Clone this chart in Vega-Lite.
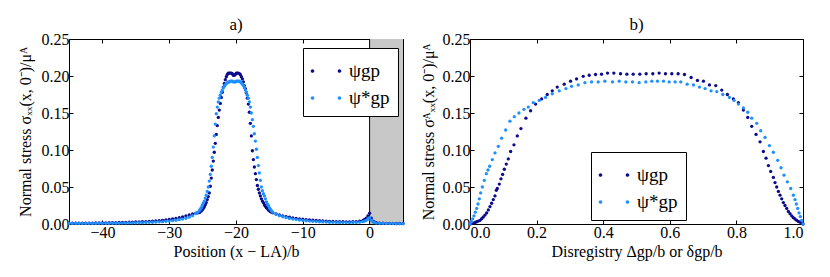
{
  "$schema": "https://vega.github.io/schema/vega-lite/v6.json",
  "background": "white",
  "padding": {"left": 17, "top": 16, "right": 5, "bottom": 5},
  "spacing": 15,
  "config": {
    "font": "Liberation Serif",
    "view": {"stroke": null},
    "axis": {
      "domain": true, "domainColor": "black", "domainWidth": 1,
      "grid": false, "ticks": true, "tickColor": "black", "tickSize": -4, "tickWidth": 1,
      "labelFont": "Liberation Serif", "labelFontSize": 16, "labelColor": "black", "labelPadding": 4,
      "titleFont": "Liberation Serif", "titleFontSize": 16, "titleFontWeight": "normal", "titleColor": "black",
      "zindex": 1
    },
    "title": {"font": "Liberation Serif", "fontSize": 17, "fontWeight": "normal", "color": "black", "offset": -3, "frame": "group"},
    "legend": {
      "title": null, "orient": "none",
      "fillColor": "white", "strokeColor": "black", "padding": 8, "cornerRadius": 0,
      "symbolType": "M-1.02,0A0.12,0.12,0,1,0,-0.78,0A0.12,0.12,0,1,0,-1.02,0ZM0.78,0A0.12,0.12,0,1,0,1.02,0A0.12,0.12,0,1,0,0.78,0Z",
      "symbolSize": 900, "symbolStrokeWidth": 0,
      "labelFont": "Liberation Serif", "labelFontSize": 19, "labelColor": "black", "labelOffset": 8, "rowPadding": 2
    }
  },
  "resolve": {"scale": {"x": "independent", "y": "independent", "color": "independent"}, "legend": {"color": "independent"}},
  "datasets": {
    "a": [
      {"x":-45,"d":0.0010,"l":0.0008},{"x":-44.5,"d":0.0010,"l":0.0008},{"x":-44,"d":0.0011,"l":0.0008},{"x":-43.5,"d":0.0011,"l":0.0008},
      {"x":-43,"d":0.0012,"l":0.0008},{"x":-42.5,"d":0.0012,"l":0.0008},{"x":-42,"d":0.0013,"l":0.0008},{"x":-41.5,"d":0.0013,"l":0.0008},
      {"x":-41,"d":0.0014,"l":0.0008},{"x":-40.5,"d":0.0015,"l":0.0009},{"x":-40,"d":0.0015,"l":0.0009},{"x":-39.5,"d":0.0016,"l":0.0009},
      {"x":-39,"d":0.0017,"l":0.0010},{"x":-38.5,"d":0.0018,"l":0.0010},{"x":-38,"d":0.0019,"l":0.0011},{"x":-37.5,"d":0.0020,"l":0.0011},
      {"x":-37,"d":0.0021,"l":0.0012},{"x":-36.5,"d":0.0022,"l":0.0013},{"x":-36,"d":0.0024,"l":0.0014},{"x":-35.5,"d":0.0025,"l":0.0015},
      {"x":-35,"d":0.0027,"l":0.0016},{"x":-34.5,"d":0.0029,"l":0.0017},{"x":-34,"d":0.0031,"l":0.0018},{"x":-33.5,"d":0.0033,"l":0.0020},
      {"x":-33,"d":0.0036,"l":0.0022},{"x":-32.5,"d":0.0039,"l":0.0024},{"x":-32,"d":0.0042,"l":0.0026},{"x":-31.5,"d":0.0046,"l":0.0029},
      {"x":-31,"d":0.0050,"l":0.0032},{"x":-30.5,"d":0.0055,"l":0.0036},{"x":-30,"d":0.0061,"l":0.0040},{"x":-29.5,"d":0.0068,"l":0.0045},
      {"x":-29,"d":0.0076,"l":0.0051},{"x":-28.5,"d":0.0085,"l":0.0058},{"x":-28,"d":0.0096,"l":0.0067},{"x":-27.5,"d":0.0108,"l":0.0078},
      {"x":-27,"d":0.0122,"l":0.0092},{"x":-26.5,"d":0.0135,"l":0.0112},{"x":-26,"d":0.0145,"l":0.0140},{"x":-25.75,"d":0.0150,"l":0.0158},
      {"x":-25.5,"d":0.0155,"l":0.018},{"x":-25.35,"d":0.0165,"l":0.020},{"x":-25.2,"d":0.0177,"l":0.022},{"x":-25.05,"d":0.019,"l":0.025},
      {"x":-24.9,"d":0.021,"l":0.028},{"x":-24.75,"d":0.023,"l":0.031},{"x":-24.6,"d":0.026,"l":0.035},{"x":-24.45,"d":0.029,"l":0.039},
      {"x":-24.3,"d":0.033,"l":0.044},{"x":-24.15,"d":0.037,"l":0.050},{"x":-24.0,"d":0.042,"l":0.058},{"x":-23.85,"d":0.051,"l":0.067},
      {"x":-23.7,"d":0.062,"l":0.078},{"x":-23.55,"d":0.073,"l":0.090},{"x":-23.4,"d":0.085,"l":0.104},{"x":-23.25,"d":0.097,"l":0.119},
      {"x":-23.1,"d":0.109,"l":0.135},{"x":-22.95,"d":0.121,"l":0.149},{"x":-22.8,"d":0.133,"l":0.158},{"x":-22.65,"d":0.144,"l":0.165},
      {"x":-22.5,"d":0.154,"l":0.170},{"x":-22.35,"d":0.163,"l":0.174},{"x":-22.2,"d":0.171,"l":0.178},{"x":-22.05,"d":0.178,"l":0.181},
      {"x":-21.9,"d":0.185,"l":0.184},{"x":-21.75,"d":0.190,"l":0.186},{"x":-21.6,"d":0.195,"l":0.188},{"x":-21.45,"d":0.199,"l":0.190},
      {"x":-21.3,"d":0.202,"l":0.191},{"x":-21.15,"d":0.204,"l":0.192},{"x":-21.0,"d":0.204,"l":0.192},{"x":-20.85,"d":0.204,"l":0.193},
      {"x":-20.7,"d":0.204,"l":0.193},{"x":-20.55,"d":0.203,"l":0.193},{"x":-20.4,"d":0.201,"l":0.192},{"x":-20.25,"d":0.201,"l":0.192},
      {"x":-20.1,"d":0.202,"l":0.192},{"x":-19.95,"d":0.204,"l":0.193},{"x":-19.8,"d":0.204,"l":0.193},{"x":-19.65,"d":0.204,"l":0.193},
      {"x":-19.5,"d":0.203,"l":0.193},{"x":-19.35,"d":0.202,"l":0.192},{"x":-19.2,"d":0.199,"l":0.191},{"x":-19.05,"d":0.196,"l":0.189},
      {"x":-18.9,"d":0.192,"l":0.187},{"x":-18.75,"d":0.187,"l":0.184},{"x":-18.6,"d":0.183,"l":0.181},{"x":-18.45,"d":0.177,"l":0.178},
      {"x":-18.3,"d":0.170,"l":0.174},{"x":-18.15,"d":0.162,"l":0.170},{"x":-18.0,"d":0.151,"l":0.165},{"x":-17.85,"d":0.136,"l":0.158},
      {"x":-17.7,"d":0.119,"l":0.150},{"x":-17.55,"d":0.099,"l":0.141},{"x":-17.4,"d":0.087,"l":0.132},{"x":-17.25,"d":0.077,"l":0.122},
      {"x":-17.1,"d":0.068,"l":0.112},{"x":-16.95,"d":0.060,"l":0.101},{"x":-16.8,"d":0.052,"l":0.090},{"x":-16.65,"d":0.047,"l":0.079},
      {"x":-16.5,"d":0.042,"l":0.069},{"x":-16.35,"d":0.038,"l":0.059},{"x":-16.2,"d":0.034,"l":0.050},{"x":-16.05,"d":0.031,"l":0.045},
      {"x":-15.9,"d":0.029,"l":0.041},{"x":-15.75,"d":0.026,"l":0.038},{"x":-15.6,"d":0.024,"l":0.034},{"x":-15.45,"d":0.022,"l":0.030},
      {"x":-15.3,"d":0.021,"l":0.027},{"x":-15.15,"d":0.019,"l":0.025},{"x":-15.0,"d":0.018,"l":0.022},{"x":-14.85,"d":0.017,"l":0.020},
      {"x":-14.7,"d":0.016,"l":0.018},{"x":-14.5,"d":0.0152,"l":0.0160},{"x":-14,"d":0.0135,"l":0.0132},{"x":-13.5,"d":0.0122,"l":0.0113},
      {"x":-13,"d":0.0110,"l":0.0098},{"x":-12.5,"d":0.0100,"l":0.0086},{"x":-12,"d":0.0091,"l":0.0076},{"x":-11.5,"d":0.0083,"l":0.0067},
      {"x":-11,"d":0.0076,"l":0.0060},{"x":-10.5,"d":0.0070,"l":0.0054},{"x":-10,"d":0.0064,"l":0.0048},{"x":-9.5,"d":0.0059,"l":0.0044},
      {"x":-9,"d":0.0055,"l":0.0040},{"x":-8.5,"d":0.0051,"l":0.0036},{"x":-8,"d":0.0047,"l":0.0033},{"x":-7.5,"d":0.0044,"l":0.0030},
      {"x":-7,"d":0.0041,"l":0.0028},{"x":-6.5,"d":0.0038,"l":0.0026},{"x":-6,"d":0.0036,"l":0.0024},{"x":-5.5,"d":0.0034,"l":0.0022},
      {"x":-5,"d":0.0032,"l":0.0021},{"x":-4.5,"d":0.0031,"l":0.0020},{"x":-4,"d":0.0030,"l":0.0019},{"x":-3.5,"d":0.0029,"l":0.0019},
      {"x":-3,"d":0.0029,"l":0.0019},{"x":-2.5,"d":0.0030,"l":0.0020},{"x":-2,"d":0.0032,"l":0.0021},{"x":-1.5,"d":0.0038,"l":0.0025},
      {"x":-1,"d":0.0050,"l":0.0032},{"x":-0.75,"d":0.0062,"l":0.0040},{"x":-0.5,"d":0.0080,"l":0.0050},{"x":-0.25,"d":0.0110,"l":0.0068},
      {"x":0,"d":0.0145,"l":0.0085},{"x":0.25,"d":0.0080,"l":0.0050},{"x":0.5,"d":0.0040,"l":0.0028},{"x":0.75,"d":0.0025,"l":0.0018},
      {"x":1,"d":0.0018,"l":0.0013},{"x":1.5,"d":0.0012,"l":0.0009},{"x":2,"d":0.0010,"l":0.0008},{"x":2.5,"d":0.0009,"l":0.0007},
      {"x":3,"d":0.0008,"l":0.0006},{"x":3.5,"d":0.0008,"l":0.0006},{"x":4,"d":0.0007,"l":0.0005},{"x":4.5,"d":0.0007,"l":0.0005},
      {"x":5,"d":0.0007,"l":0.0005}
    ],
    "bd": [
      {"x":0,"y":0},{"x":0.005,"y":0.0008},{"x":0.01,"y":0.0013},{"x":0.015,"y":0.002},{"x":0.02,"y":0.003},{"x":0.025,"y":0.004},
      {"x":0.03,"y":0.005},{"x":0.035,"y":0.0072},{"x":0.04,"y":0.0095},{"x":0.045,"y":0.012},{"x":0.05,"y":0.015},{"x":0.055,"y":0.019},
      {"x":0.06,"y":0.0235},{"x":0.065,"y":0.028},{"x":0.07,"y":0.033},{"x":0.075,"y":0.038},{"x":0.079,"y":0.0455},{"x":0.082,"y":0.048},
      {"x":0.088,"y":0.054},{"x":0.093,"y":0.061},{"x":0.098,"y":0.067},{"x":0.103,"y":0.074},{"x":0.109,"y":0.081},{"x":0.115,"y":0.088},
      {"x":0.122,"y":0.098},{"x":0.132,"y":0.107},{"x":0.142,"y":0.119},{"x":0.153,"y":0.129},{"x":0.168,"y":0.143},{"x":0.182,"y":0.153},
      {"x":0.197,"y":0.162},{"x":0.215,"y":0.169},{"x":0.232,"y":0.175},{"x":0.247,"y":0.180},{"x":0.262,"y":0.185},{"x":0.283,"y":0.189},
      {"x":0.302,"y":0.193},{"x":0.320,"y":0.196},{"x":0.340,"y":0.1995},{"x":0.358,"y":0.201},{"x":0.377,"y":0.202},{"x":0.395,"y":0.2025},
      {"x":0.413,"y":0.204},{"x":0.432,"y":0.204},{"x":0.452,"y":0.203},{"x":0.471,"y":0.2025},{"x":0.490,"y":0.2025},{"x":0.510,"y":0.2025},
      {"x":0.529,"y":0.203},{"x":0.549,"y":0.203},{"x":0.568,"y":0.204},{"x":0.587,"y":0.203},{"x":0.606,"y":0.203},{"x":0.625,"y":0.203},
      {"x":0.644,"y":0.202},{"x":0.664,"y":0.198},{"x":0.683,"y":0.194},{"x":0.701,"y":0.193},{"x":0.719,"y":0.188},{"x":0.738,"y":0.187},
      {"x":0.756,"y":0.181},{"x":0.773,"y":0.175},{"x":0.791,"y":0.169},{"x":0.806,"y":0.164},{"x":0.821,"y":0.154},{"x":0.834,"y":0.144},
      {"x":0.846,"y":0.132},{"x":0.859,"y":0.121},{"x":0.871,"y":0.111},{"x":0.881,"y":0.098},{"x":0.889,"y":0.089},{"x":0.896,"y":0.079},
      {"x":0.903,"y":0.071},{"x":0.911,"y":0.063},{"x":0.916,"y":0.056},{"x":0.921,"y":0.050},{"x":0.926,"y":0.044},{"x":0.931,"y":0.039},
      {"x":0.936,"y":0.034},{"x":0.941,"y":0.029},{"x":0.946,"y":0.025},{"x":0.951,"y":0.021},{"x":0.956,"y":0.017},{"x":0.961,"y":0.014},
      {"x":0.966,"y":0.011},{"x":0.971,"y":0.0085},{"x":0.976,"y":0.0068},{"x":0.981,"y":0.005},{"x":0.986,"y":0.0035},{"x":0.991,"y":0.0025},
      {"x":0.995,"y":0.0015},{"x":1.0,"y":0}
    ],
    "bl": [
      {"x":0,"y":0},{"x":0.004,"y":0.003},{"x":0.008,"y":0.007},{"x":0.012,"y":0.011},{"x":0.016,"y":0.016},{"x":0.02,"y":0.021},
      {"x":0.024,"y":0.027},{"x":0.028,"y":0.034},{"x":0.032,"y":0.042},{"x":0.037,"y":0.050},{"x":0.043,"y":0.059},{"x":0.049,"y":0.068},
      {"x":0.054,"y":0.073},{"x":0.059,"y":0.078},{"x":0.067,"y":0.087},{"x":0.075,"y":0.096},{"x":0.085,"y":0.105},{"x":0.095,"y":0.116},
      {"x":0.107,"y":0.127},{"x":0.120,"y":0.139},{"x":0.133,"y":0.145},{"x":0.147,"y":0.150},{"x":0.162,"y":0.155},{"x":0.175,"y":0.158},
      {"x":0.190,"y":0.164},{"x":0.208,"y":0.167},{"x":0.227,"y":0.171},{"x":0.247,"y":0.176},{"x":0.268,"y":0.180},{"x":0.288,"y":0.183},
      {"x":0.305,"y":0.186},{"x":0.325,"y":0.188},{"x":0.345,"y":0.191},{"x":0.365,"y":0.192},{"x":0.385,"y":0.192},{"x":0.405,"y":0.193},
      {"x":0.428,"y":0.192},{"x":0.448,"y":0.193},{"x":0.468,"y":0.192},{"x":0.488,"y":0.192},{"x":0.508,"y":0.191},{"x":0.528,"y":0.192},
      {"x":0.546,"y":0.193},{"x":0.563,"y":0.193},{"x":0.581,"y":0.193},{"x":0.598,"y":0.192},{"x":0.616,"y":0.192},{"x":0.633,"y":0.192},
      {"x":0.652,"y":0.189},{"x":0.671,"y":0.188},{"x":0.689,"y":0.185},{"x":0.706,"y":0.183},{"x":0.724,"y":0.180},{"x":0.741,"y":0.179},
      {"x":0.759,"y":0.175},{"x":0.779,"y":0.171},{"x":0.793,"y":0.167},{"x":0.806,"y":0.162},{"x":0.821,"y":0.157},{"x":0.834,"y":0.151},
      {"x":0.846,"y":0.143},{"x":0.861,"y":0.136},{"x":0.873,"y":0.126},{"x":0.886,"y":0.117},{"x":0.899,"y":0.106},{"x":0.911,"y":0.097},
      {"x":0.924,"y":0.086},{"x":0.934,"y":0.076},{"x":0.943,"y":0.066},{"x":0.953,"y":0.057},{"x":0.963,"y":0.048},{"x":0.971,"y":0.039},
      {"x":0.976,"y":0.033},{"x":0.980,"y":0.027},{"x":0.984,"y":0.021},{"x":0.988,"y":0.015},{"x":0.992,"y":0.010},{"x":0.996,"y":0.005},
      {"x":1.0,"y":0}
    ]
  },
  "hconcat": [
    {
      "title": "a)",
      "width": 334, "height": 185,
      "resolve": {"axis": {"x": "independent", "y": "independent"}},
      "layer": [
        {
          "data": {"values": [{"a": 0, "b": 5}]},
          "mark": {"type": "rect", "color": "#c8c8c8"},
          "encoding": {
            "x": {"field": "a", "type": "quantitative", "scale": {"domain": [-45, 5], "nice": false}, "axis": null},
            "x2": {"field": "b"}
          }
        },
        {
          "data": {"values": [{"a": 0}]},
          "mark": {"type": "rule", "color": "black", "strokeWidth": 1},
          "encoding": {
            "x": {"field": "a", "type": "quantitative", "scale": {"domain": [-45, 5], "nice": false}, "axis": null}
          }
        },
        {
          "data": {"name": "a"},
          "mark": {"type": "circle", "size": 11, "opacity": 1},
          "encoding": {
            "x": {"field": "x", "type": "quantitative", "scale": {"domain": [-45, 5], "nice": false},
                  "axis": {"orient": "bottom", "values": [-40, -30, -20, -10, 0], "title": "Position (x − LA)/b", "titlePadding": 3}},
            "y": {"field": "d", "type": "quantitative", "scale": {"domain": [0, 0.25], "nice": false},
                  "axis": {"orient": "left", "values": [0, 0.05, 0.1, 0.15, 0.2, 0.25], "format": ".2f", "title": "Normal stress σₓₓ(x, 0⁻)/μᴬ", "titlePadding": 8}},
            "color": {"datum": "ψgp", "type": "nominal",
                      "scale": {"domain": ["ψgp", "ψ*gp"], "range": ["#0b0b8c", "#1e90ff"]},
                      "legend": {"orient": "none", "legendX": 234, "legendY": 9}}
          }
        },
        {
          "data": {"name": "a"},
          "mark": {"type": "circle", "size": 11, "opacity": 1},
          "encoding": {
            "x": {"field": "x", "type": "quantitative", "scale": {"domain": [-45, 5], "nice": false},
                  "axis": {"orient": "top", "values": [-40, -30, -20, -10, 0], "labels": false, "title": null, "minExtent": 0}},
            "y": {"field": "l", "type": "quantitative", "scale": {"domain": [0, 0.25], "nice": false},
                  "axis": {"orient": "right", "values": [0, 0.05, 0.1, 0.15, 0.2, 0.25], "labels": false, "title": null}},
            "color": {"datum": "ψ*gp", "type": "nominal"}
          }
        }
      ]
    },
    {
      "title": "b)",
      "width": 333, "height": 185,
      "resolve": {"axis": {"x": "independent", "y": "independent"}},
      "layer": [
        {
          "data": {"name": "bd"},
          "mark": {"type": "circle", "size": 11, "opacity": 1},
          "encoding": {
            "x": {"field": "x", "type": "quantitative", "scale": {"domain": [0, 1], "nice": false},
                  "axis": {"orient": "bottom", "values": [0, 0.2, 0.4, 0.6, 0.8, 1], "format": ".1f", "title": "Disregistry Δgp/b or δgp/b", "titlePadding": 3}},
            "y": {"field": "y", "type": "quantitative", "scale": {"domain": [0, 0.25], "nice": false},
                  "axis": {"orient": "left", "values": [0, 0.05, 0.1, 0.15, 0.2, 0.25], "format": ".2f", "title": "Normal stress σᴬₓₓ(x, 0⁻)/μᴬ", "titlePadding": 6}},
            "color": {"datum": "ψgp", "type": "nominal",
                      "scale": {"domain": ["ψgp", "ψ*gp"], "range": ["#0b0b8c", "#1e90ff"]},
                      "legend": {"orient": "none", "legendX": 121, "legendY": 113}}
          }
        },
        {
          "data": {"name": "bl"},
          "mark": {"type": "circle", "size": 11, "opacity": 1},
          "encoding": {
            "x": {"field": "x", "type": "quantitative", "scale": {"domain": [0, 1], "nice": false},
                  "axis": {"orient": "top", "values": [0, 0.2, 0.4, 0.6, 0.8, 1], "labels": false, "title": null, "minExtent": 0}},
            "y": {"field": "y", "type": "quantitative", "scale": {"domain": [0, 0.25], "nice": false},
                  "axis": {"orient": "right", "values": [0, 0.05, 0.1, 0.15, 0.2, 0.25], "labels": false, "title": null}},
            "color": {"datum": "ψ*gp", "type": "nominal"}
          }
        }
      ]
    }
  ]
}
